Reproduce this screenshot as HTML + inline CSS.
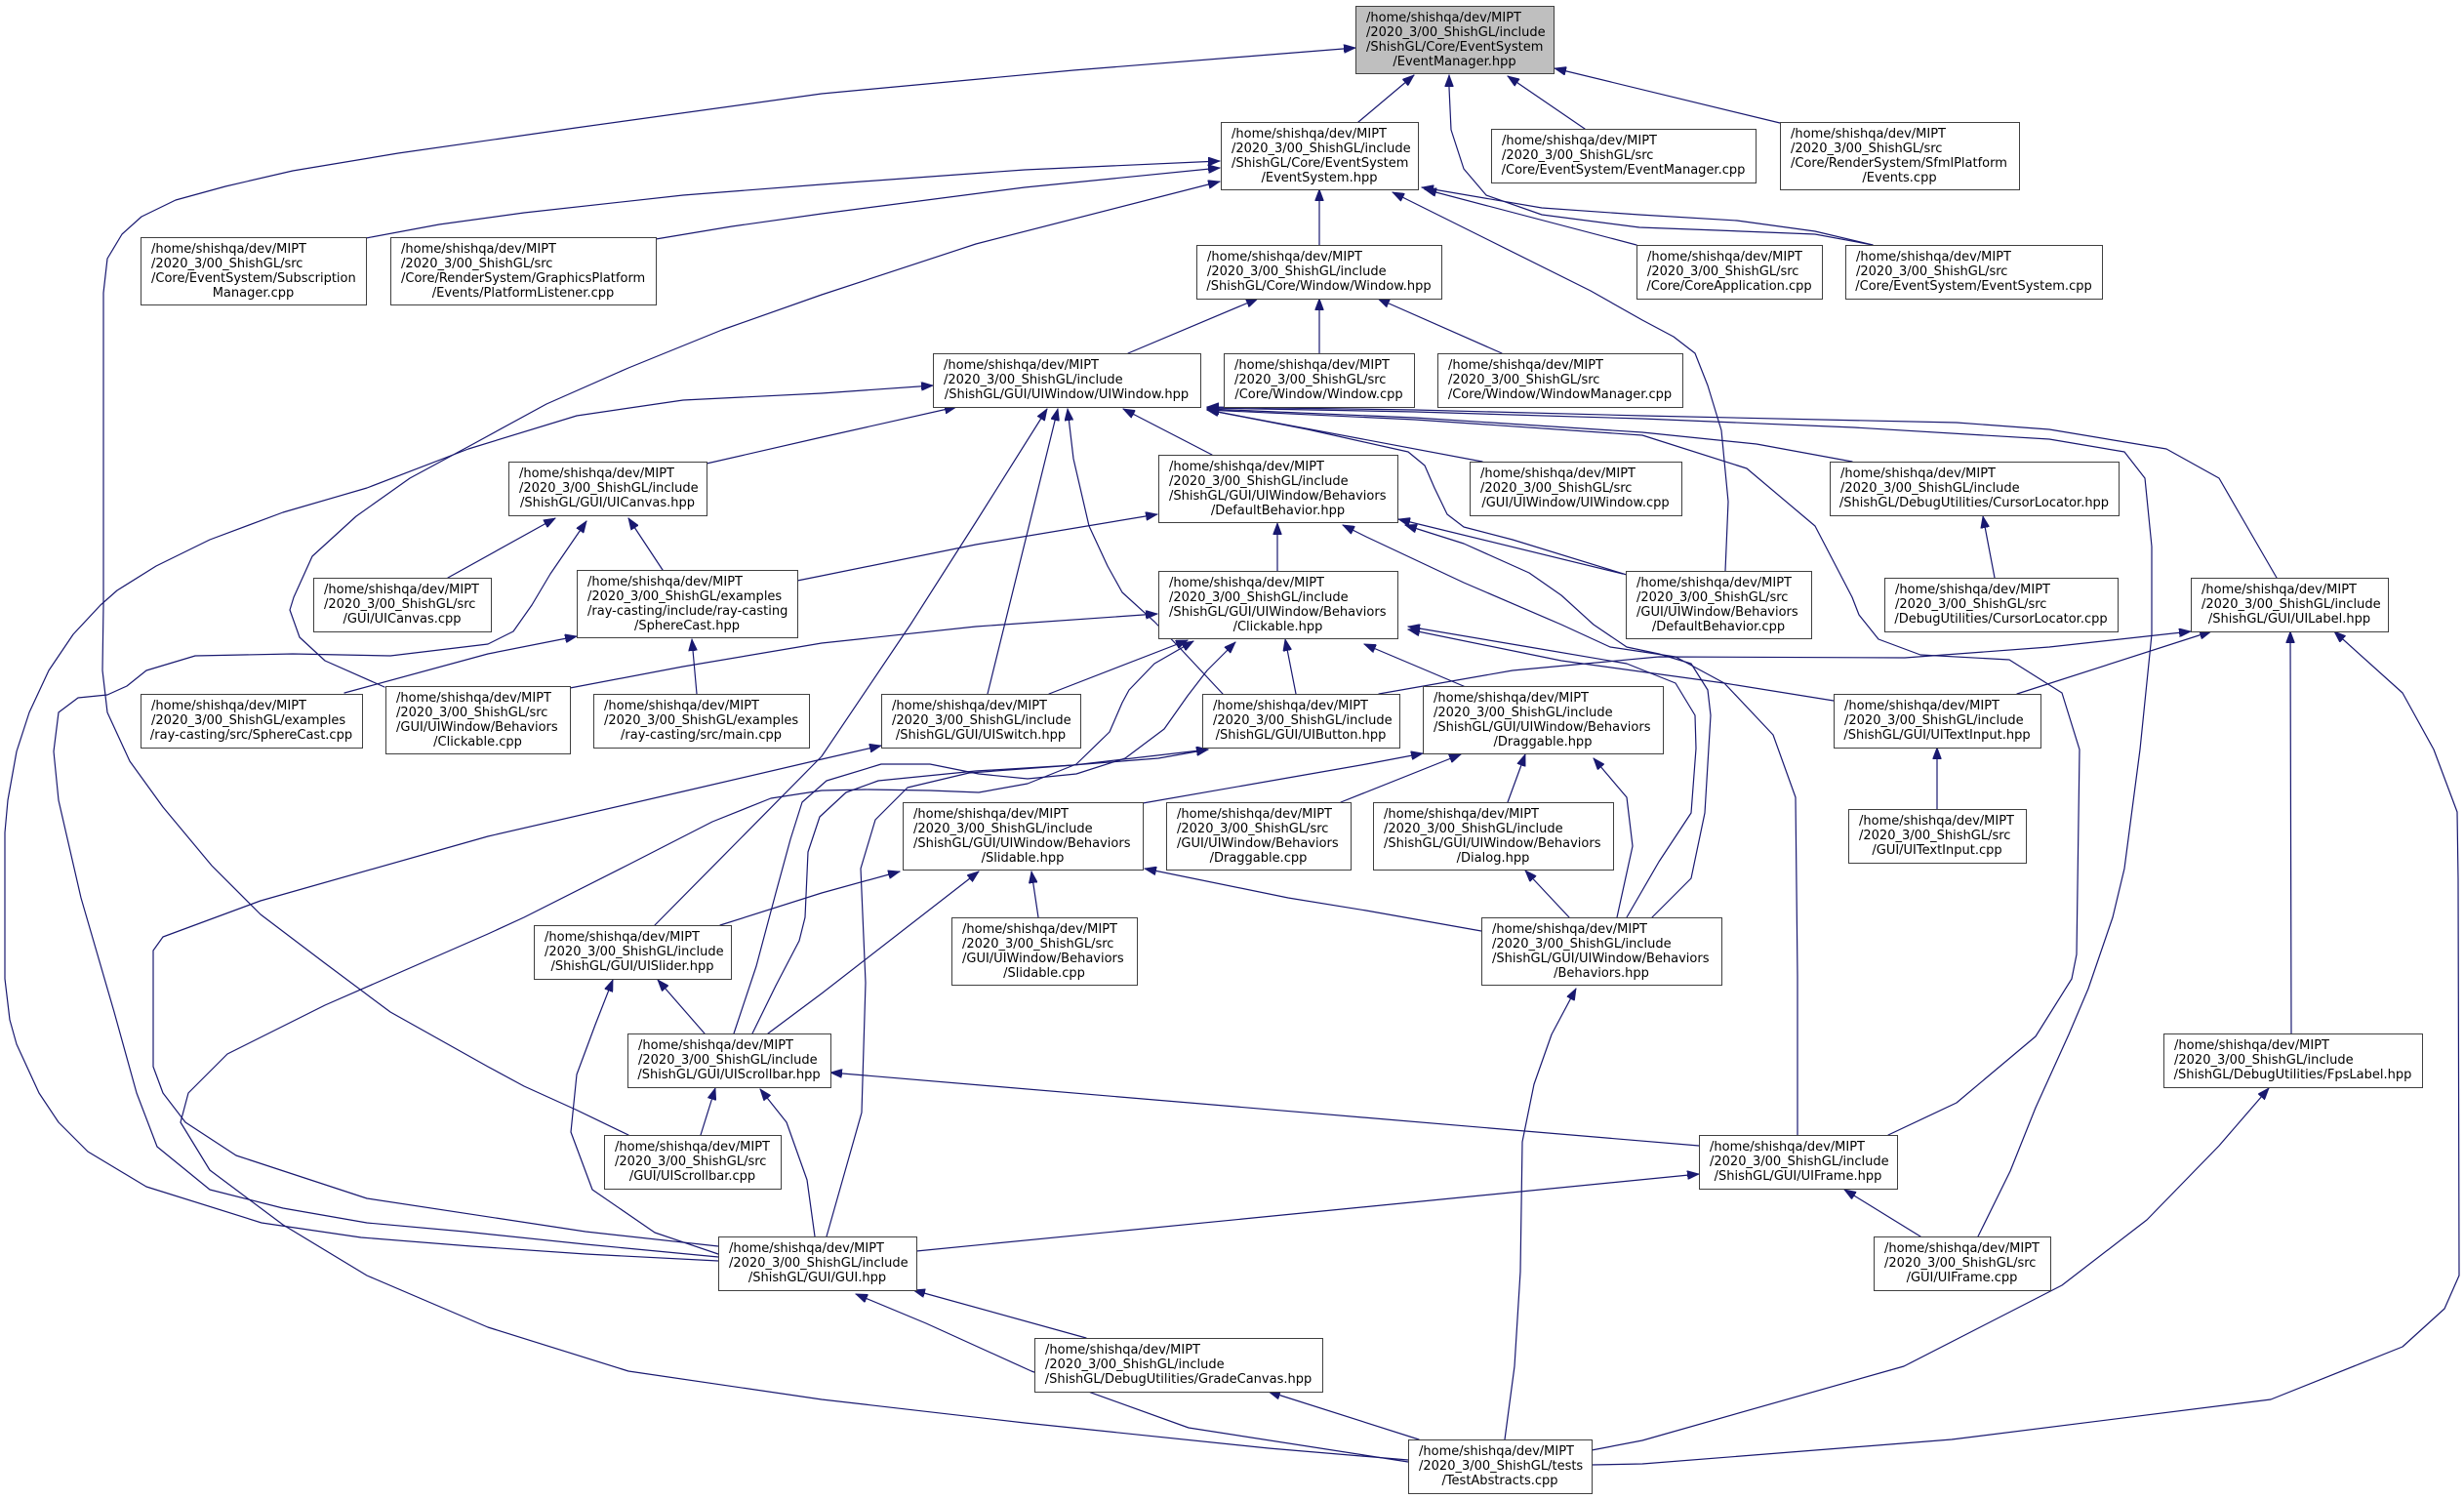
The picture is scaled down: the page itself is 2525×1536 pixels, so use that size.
<!DOCTYPE html>
<html>
<head>
<meta charset="utf-8">
<style>
html,body{margin:0;padding:0;background:#ffffff;}
svg{display:block;background:#ffffff;}
text{font-family:"DejaVu Sans","Liberation Sans",sans-serif;font-size:13px;fill:#000;}
.c{text-anchor:middle;}
rect{stroke:#404040;stroke-width:1;}
</style>
</head>
<body>
<svg xmlns="http://www.w3.org/2000/svg" width="2525" height="1536" viewBox="0 0 2525 1536">
<defs>
<marker id="a" markerUnits="userSpaceOnUse" markerWidth="12" markerHeight="9" refX="12" refY="4.5" orient="auto" viewBox="0 0 12 9">
<path d="M0,0 L12,4.5 L0,9 z" fill="#191970" stroke="#191970" stroke-width="0.8"/>
</marker>
</defs>

<g fill="none" stroke="#191970" stroke-width="1.2" stroke-linejoin="round" stroke-linecap="round" marker-end="url(#a)">
<polyline points="1392,125 1449,77"/>
<polyline points="1624,132 1545,78"/>
<polyline points="1824,126 1593,70"/>
<polyline points="644,1163 590,1137 537,1113 500,1093 400,1037 333,987 267,937 217,887 167,827 133,780 110,730 105,687 106,620 106,300 110,265 125,240 145,222 180,205 231,191 300,175 408,157 590,131 842,96 1100,72 1389,49"/>
<polyline points="1919,251 1860,240 1760,236 1680,233 1580,220 1523,200 1500,173 1487,133 1485,90 1485,77"/>
<polyline points="1919,251 1860,237 1780,226 1680,220 1580,213 1457,192"/>
<polyline points="1677,251 1460,194"/>
<polyline points="1768,585 1771,514 1764,441 1750,395 1737,362 1715,345 1683,328 1630,298 1427,197"/>
<polyline points="1352,251 1352,194"/>
<polyline points="375,244 450,230 537,218 700,200 842,189 1050,174 1250,165"/>
<polyline points="672,245 750,232 842,219 1050,192 1250,172"/>
<polyline points="394,704 333,677 307,653 297,625 301,612 320,570 365,529 420,490 483,456 560,414 644,377 740,338 842,302 1000,250 1250,186"/>
<polyline points="1156,362 1289,306"/>
<polyline points="1352,362 1352,306"/>
<polyline points="1539,362 1412,306"/>
<polyline points="724,475 842,448 980,417"/>
<polyline points="736,1292 600,1285 483,1277 370,1268 268,1253 150,1216 90,1180 60,1150 40,1120 17,1070 10,1045 5,1003 5,853 8,820 17,770 30,730 50,687 75,650 103,620 120,605 160,580 215,553 290,525 376,500 480,460 591,426 700,410 842,403 956,395"/>
<polyline points="671,948 760,858 842,775 933,640 1000,535 1073,419"/>
<polyline points="1012,711 1084,419"/>
<polyline points="1253,711 1210,665 1183,637 1150,607 1135,580 1116,539 1100,470 1094,419"/>
<polyline points="1242,466 1151,419"/>
<polyline points="1519,473 1237,420"/>
<polyline points="1898,473 1800,455 1683,443 1450,428 1237,419"/>
<polyline points="2333,592 2300,535 2274,490 2220,460 2100,440 2005,433 1683,426 1450,420 1237,417"/>
<polyline points="2027,1267 2060,1200 2086,1135 2120,1060 2140,1013 2165,940 2177,890 2193,768 2205,650 2205,560 2198,490 2177,463 2100,450 1900,438 1683,429 1450,422 1237,418"/>
<polyline points="1935,1163 2005,1130 2086,1062 2123,1003 2128,978 2131,768 2113,710 2059,676 1968,671 1925,655 1905,630 1898,612 1860,539 1790,480 1683,446 1450,430 1237,420"/>
<polyline points="1667,589 1550,553 1500,540 1483,527 1470,500 1460,477 1443,463 1340,440 1237,420"/>
<polyline points="459,592 569,531"/>
<polyline points="679,584 644,531"/>
<polyline points="736,1288 600,1275 476,1262 376,1253 290,1238 215,1219 161,1175 140,1120 117,1037 83,920 60,820 55,770 60,730 80,715 110,712 130,703 150,687 200,672 300,670 400,672 500,660 526,647 545,620 564,588 601,534"/>
<polyline points="817,595 842,590 1000,558 1186,527"/>
<polyline points="1309,585 1309,536"/>
<polyline points="1663,588 1433,532"/>
<polyline points="1693,940 1733,900 1747,833 1753,733 1750,707 1733,680 1700,670 1667,663 1633,640 1600,610 1567,587 1500,557 1440,538"/>
<polyline points="1842,1163 1842,1000 1840,817 1817,753 1767,700 1717,673 1650,663 1600,640 1500,597 1400,550 1376,538"/>
<polyline points="2044,592 2032,529"/>
<polyline points="353,710 500,670 591,652"/>
<polyline points="714,711 709,655"/>
<polyline points="584,705 700,683 842,659 1000,642 1186,629"/>
<polyline points="1075,711 1217,656"/>
<polyline points="1328,711 1317,655"/>
<polyline points="1502,704 1398,660"/>
<polyline points="1879,718 1767,700 1600,677 1443,645"/>
<polyline points="1667,940 1700,883 1733,833 1738,767 1737,733 1717,700 1667,680 1567,663 1443,642"/>
<polyline points="1443,1496 1300,1484 1050,1458 842,1434 644,1405 500,1360 376,1307 290,1255 215,1199 185,1150 193,1120 233,1080 333,1030 500,957 537,940 644,886 730,842 790,818 842,810 887,809 953,810 1003,812 1053,803 1103,783 1137,750 1150,720 1157,707 1183,680 1223,657"/>
<polyline points="752,1059 775,990 795,915 810,860 822,822 847,800 903,783 953,783 1003,793 1053,798 1103,793 1153,777 1193,747 1217,713 1237,687 1266,658"/>
<polyline points="771,1059 795,1010 819,964 825,940 828,873 840,837 867,812 900,800 1000,790 1100,784 1238,768"/>
<polyline points="847,1267 866,1200 883,1140 887,1007 882,890 897,840 930,807 993,792 1087,785 1187,777 1238,768"/>
<polyline points="736,1277 600,1262 376,1228 242,1184 190,1150 167,1120 157,1093 157,974 167,960 267,923 500,857 700,811 842,778 903,764"/>
<polyline points="1413,711 1550,687 1700,673 1952,674 2100,663 2245,647"/>
<polyline points="2067,711 2266,647"/>
<polyline points="2348,1059 2347,647"/>
<polyline points="1631,1501 1683,1500 2000,1475 2327,1434 2462,1380 2505,1341 2520,1307 2519,900 2518,832 2494,768 2462,710 2392,647"/>
<polyline points="1171,823 1320,797 1400,783 1458,772"/>
<polyline points="1374,822 1497,773"/>
<polyline points="1545,822 1563,773"/>
<polyline points="1657,940 1673,867 1667,817 1633,777"/>
<polyline points="738,948 842,915 922,893"/>
<polyline points="1064,940 1057,893"/>
<polyline points="787,1059 842,1018 1003,893"/>
<polyline points="1518,954 1400,933 1320,920 1173,890"/>
<polyline points="1608,940 1563,892"/>
<polyline points="736,1285 671,1263 607,1219 585,1160 591,1101 610,1050 628,1004"/>
<polyline points="718,1163 733,1115"/>
<polyline points="835,1267 827,1209 806,1150 779,1116"/>
<polyline points="1741,1174 851,1099"/>
<polyline points="939,1282 1741,1203"/>
<polyline points="1968,1267 1890,1219"/>
<polyline points="1113,1371 936,1322"/>
<polyline points="1443,1498 1218,1463 1057,1405 949,1356 877,1326"/>
<polyline points="1454,1475 1300,1426"/>
<polyline points="1542,1475 1552,1400 1558,1303 1560,1170 1572,1111 1590,1060 1615,1013"/>
<polyline points="1631,1486 1683,1476 1951,1400 2113,1317 2200,1250 2274,1174 2325,1115"/>
<polyline points="1985,829 1985,766"/>
<polyline points="722,1059 674,1004"/>
</g>

<!-- nodes -->
<rect x="1389.5" y="6.5" width="203" height="69" fill="#bfbfbf"/>
<text x="1400" y="22">/home/shishqa/dev/MIPT</text><text x="1400" y="37">/2020_3/00_ShishGL/include</text><text x="1400" y="52">/ShishGL/Core/EventSystem</text><text class="c" x="1490.5" y="67">/EventManager.hpp</text>

<rect x="1251.5" y="125.5" width="202" height="69" fill="#fff"/>
<text x="1262" y="141">/home/shishqa/dev/MIPT</text><text x="1262" y="156">/2020_3/00_ShishGL/include</text><text x="1262" y="171">/ShishGL/Core/EventSystem</text><text class="c" x="1352" y="186">/EventSystem.hpp</text>

<rect x="1528.5" y="132.5" width="271" height="55" fill="#fff"/>
<text x="1539" y="148">/home/shishqa/dev/MIPT</text><text x="1539" y="163">/2020_3/00_ShishGL/src</text><text class="c" x="1663.5" y="178">/Core/EventSystem/EventManager.cpp</text>

<rect x="1824.5" y="125.5" width="245" height="69" fill="#fff"/>
<text x="1835" y="141">/home/shishqa/dev/MIPT</text><text x="1835" y="156">/2020_3/00_ShishGL/src</text><text x="1835" y="171">/Core/RenderSystem/SfmlPlatform</text><text class="c" x="1946.5" y="186">/Events.cpp</text>

<rect x="144.5" y="243.5" width="231" height="69" fill="#fff"/>
<text x="155" y="259">/home/shishqa/dev/MIPT</text><text x="155" y="274">/2020_3/00_ShishGL/src</text><text x="155" y="289">/Core/EventSystem/Subscription</text><text class="c" x="259.5" y="304">Manager.cpp</text>

<rect x="400.5" y="243.5" width="272" height="69" fill="#fff"/>
<text x="411" y="259">/home/shishqa/dev/MIPT</text><text x="411" y="274">/2020_3/00_ShishGL/src</text><text x="411" y="289">/Core/RenderSystem/GraphicsPlatform</text><text class="c" x="536" y="304">/Events/PlatformListener.cpp</text>

<rect x="1226.5" y="251.5" width="251" height="55" fill="#fff"/>
<text x="1237" y="267">/home/shishqa/dev/MIPT</text><text x="1237" y="282">/2020_3/00_ShishGL/include</text><text class="c" x="1351.5" y="297">/ShishGL/Core/Window/Window.hpp</text>

<rect x="1677.5" y="251.5" width="190" height="55" fill="#fff"/>
<text x="1688" y="267">/home/shishqa/dev/MIPT</text><text x="1688" y="282">/2020_3/00_ShishGL/src</text><text class="c" x="1772" y="297">/Core/CoreApplication.cpp</text>

<rect x="1891.5" y="251.5" width="263" height="55" fill="#fff"/>
<text x="1902" y="267">/home/shishqa/dev/MIPT</text><text x="1902" y="282">/2020_3/00_ShishGL/src</text><text class="c" x="2022.5" y="297">/Core/EventSystem/EventSystem.cpp</text>

<rect x="956.5" y="362.5" width="274" height="55" fill="#fff"/>
<text x="967" y="378">/home/shishqa/dev/MIPT</text><text x="967" y="393">/2020_3/00_ShishGL/include</text><text class="c" x="1093" y="408">/ShishGL/GUI/UIWindow/UIWindow.hpp</text>

<rect x="1254.5" y="362.5" width="195" height="55" fill="#fff"/>
<text x="1265" y="378">/home/shishqa/dev/MIPT</text><text x="1265" y="393">/2020_3/00_ShishGL/src</text><text class="c" x="1351.5" y="408">/Core/Window/Window.cpp</text>

<rect x="1473.5" y="362.5" width="251" height="55" fill="#fff"/>
<text x="1484" y="378">/home/shishqa/dev/MIPT</text><text x="1484" y="393">/2020_3/00_ShishGL/src</text><text class="c" x="1598.5" y="408">/Core/Window/WindowManager.cpp</text>

<rect x="521.5" y="473.5" width="203" height="55" fill="#fff"/>
<text x="532" y="489">/home/shishqa/dev/MIPT</text><text x="532" y="504">/2020_3/00_ShishGL/include</text><text class="c" x="622.5" y="519">/ShishGL/GUI/UICanvas.hpp</text>

<rect x="1187.5" y="466.5" width="245" height="69" fill="#fff"/>
<text x="1198" y="482">/home/shishqa/dev/MIPT</text><text x="1198" y="497">/2020_3/00_ShishGL/include</text><text x="1198" y="512">/ShishGL/GUI/UIWindow/Behaviors</text><text class="c" x="1309.5" y="527">/DefaultBehavior.hpp</text>

<rect x="1506.5" y="473.5" width="217" height="55" fill="#fff"/>
<text x="1517" y="489">/home/shishqa/dev/MIPT</text><text x="1517" y="504">/2020_3/00_ShishGL/src</text><text class="c" x="1614.5" y="519">/GUI/UIWindow/UIWindow.cpp</text>

<rect x="1875.5" y="473.5" width="296" height="55" fill="#fff"/>
<text x="1886" y="489">/home/shishqa/dev/MIPT</text><text x="1886" y="504">/2020_3/00_ShishGL/include</text><text class="c" x="2023" y="519">/ShishGL/DebugUtilities/CursorLocator.hpp</text>

<rect x="321.5" y="592.5" width="182" height="55" fill="#fff"/>
<text x="332" y="608">/home/shishqa/dev/MIPT</text><text x="332" y="623">/2020_3/00_ShishGL/src</text><text class="c" x="412" y="638">/GUI/UICanvas.cpp</text>

<rect x="591.5" y="584.5" width="226" height="69" fill="#fff"/>
<text x="602" y="600">/home/shishqa/dev/MIPT</text><text x="602" y="615">/2020_3/00_ShishGL/examples</text><text x="602" y="630">/ray-casting/include/ray-casting</text><text class="c" x="704" y="645">/SphereCast.hpp</text>

<rect x="1187.5" y="585.5" width="245" height="69" fill="#fff"/>
<text x="1198" y="601">/home/shishqa/dev/MIPT</text><text x="1198" y="616">/2020_3/00_ShishGL/include</text><text x="1198" y="631">/ShishGL/GUI/UIWindow/Behaviors</text><text class="c" x="1309.5" y="646">/Clickable.hpp</text>

<rect x="1666.5" y="585.5" width="190" height="69" fill="#fff"/>
<text x="1677" y="601">/home/shishqa/dev/MIPT</text><text x="1677" y="616">/2020_3/00_ShishGL/src</text><text x="1677" y="631">/GUI/UIWindow/Behaviors</text><text class="c" x="1761" y="646">/DefaultBehavior.cpp</text>

<rect x="1931.5" y="592.5" width="239" height="55" fill="#fff"/>
<text x="1942" y="608">/home/shishqa/dev/MIPT</text><text x="1942" y="623">/2020_3/00_ShishGL/src</text><text class="c" x="2050.5" y="638">/DebugUtilities/CursorLocator.cpp</text>

<rect x="2245.5" y="592.5" width="202" height="55" fill="#fff"/>
<text x="2256" y="608">/home/shishqa/dev/MIPT</text><text x="2256" y="623">/2020_3/00_ShishGL/include</text><text class="c" x="2346" y="638">/ShishGL/GUI/UILabel.hpp</text>

<rect x="144.5" y="711.5" width="227" height="55" fill="#fff"/>
<text x="155" y="727">/home/shishqa/dev/MIPT</text><text x="155" y="742">/2020_3/00_ShishGL/examples</text><text class="c" x="257.5" y="757">/ray-casting/src/SphereCast.cpp</text>

<rect x="395.5" y="703.5" width="189" height="69" fill="#fff"/>
<text x="406" y="719">/home/shishqa/dev/MIPT</text><text x="406" y="734">/2020_3/00_ShishGL/src</text><text x="406" y="749">/GUI/UIWindow/Behaviors</text><text class="c" x="489.5" y="764">/Clickable.cpp</text>

<rect x="608.5" y="711.5" width="221" height="55" fill="#fff"/>
<text x="619" y="727">/home/shishqa/dev/MIPT</text><text x="619" y="742">/2020_3/00_ShishGL/examples</text><text class="c" x="718.5" y="757">/ray-casting/src/main.cpp</text>

<rect x="903.5" y="711.5" width="204" height="55" fill="#fff"/>
<text x="914" y="727">/home/shishqa/dev/MIPT</text><text x="914" y="742">/2020_3/00_ShishGL/include</text><text class="c" x="1005" y="757">/ShishGL/GUI/UISwitch.hpp</text>

<rect x="1232.5" y="711.5" width="202" height="55" fill="#fff"/>
<text x="1243" y="727">/home/shishqa/dev/MIPT</text><text x="1243" y="742">/2020_3/00_ShishGL/include</text><text class="c" x="1333" y="757">/ShishGL/GUI/UIButton.hpp</text>

<rect x="1458.5" y="703.5" width="246" height="69" fill="#fff"/>
<text x="1469" y="719">/home/shishqa/dev/MIPT</text><text x="1469" y="734">/2020_3/00_ShishGL/include</text><text x="1469" y="749">/ShishGL/GUI/UIWindow/Behaviors</text><text class="c" x="1581" y="764">/Draggable.hpp</text>

<rect x="1879.5" y="711.5" width="212" height="55" fill="#fff"/>
<text x="1890" y="727">/home/shishqa/dev/MIPT</text><text x="1890" y="742">/2020_3/00_ShishGL/include</text><text class="c" x="1985" y="757">/ShishGL/GUI/UITextInput.hpp</text>

<rect x="925.5" y="822.5" width="246" height="69" fill="#fff"/>
<text x="936" y="838">/home/shishqa/dev/MIPT</text><text x="936" y="853">/2020_3/00_ShishGL/include</text><text x="936" y="868">/ShishGL/GUI/UIWindow/Behaviors</text><text class="c" x="1048" y="883">/Slidable.hpp</text>

<rect x="1195.5" y="822.5" width="189" height="69" fill="#fff"/>
<text x="1206" y="838">/home/shishqa/dev/MIPT</text><text x="1206" y="853">/2020_3/00_ShishGL/src</text><text x="1206" y="868">/GUI/UIWindow/Behaviors</text><text class="c" x="1289.5" y="883">/Draggable.cpp</text>

<rect x="1407.5" y="822.5" width="246" height="69" fill="#fff"/>
<text x="1418" y="838">/home/shishqa/dev/MIPT</text><text x="1418" y="853">/2020_3/00_ShishGL/include</text><text x="1418" y="868">/ShishGL/GUI/UIWindow/Behaviors</text><text class="c" x="1530" y="883">/Dialog.hpp</text>

<rect x="1894.5" y="829.5" width="182" height="55" fill="#fff"/>
<text x="1905" y="845">/home/shishqa/dev/MIPT</text><text x="1905" y="860">/2020_3/00_ShishGL/src</text><text class="c" x="1985" y="875">/GUI/UITextInput.cpp</text>

<rect x="547.5" y="948.5" width="202" height="55" fill="#fff"/>
<text x="558" y="964">/home/shishqa/dev/MIPT</text><text x="558" y="979">/2020_3/00_ShishGL/include</text><text class="c" x="648" y="994">/ShishGL/GUI/UISlider.hpp</text>

<rect x="975.5" y="940.5" width="190" height="69" fill="#fff"/>
<text x="986" y="956">/home/shishqa/dev/MIPT</text><text x="986" y="971">/2020_3/00_ShishGL/src</text><text x="986" y="986">/GUI/UIWindow/Behaviors</text><text class="c" x="1070" y="1001">/Slidable.cpp</text>

<rect x="1518.5" y="940.5" width="246" height="69" fill="#fff"/>
<text x="1529" y="956">/home/shishqa/dev/MIPT</text><text x="1529" y="971">/2020_3/00_ShishGL/include</text><text x="1529" y="986">/ShishGL/GUI/UIWindow/Behaviors</text><text class="c" x="1641" y="1001">/Behaviors.hpp</text>

<rect x="643.5" y="1059.5" width="208" height="55" fill="#fff"/>
<text x="654" y="1075">/home/shishqa/dev/MIPT</text><text x="654" y="1090">/2020_3/00_ShishGL/include</text><text class="c" x="747" y="1105">/ShishGL/GUI/UIScrollbar.hpp</text>

<rect x="2217.5" y="1059.5" width="265" height="55" fill="#fff"/>
<text x="2228" y="1075">/home/shishqa/dev/MIPT</text><text x="2228" y="1090">/2020_3/00_ShishGL/include</text><text class="c" x="2349.5" y="1105">/ShishGL/DebugUtilities/FpsLabel.hpp</text>

<rect x="619.5" y="1163.5" width="181" height="55" fill="#fff"/>
<text x="630" y="1179">/home/shishqa/dev/MIPT</text><text x="630" y="1194">/2020_3/00_ShishGL/src</text><text class="c" x="709.5" y="1209">/GUI/UIScrollbar.cpp</text>

<rect x="1741.5" y="1163.5" width="203" height="55" fill="#fff"/>
<text x="1752" y="1179">/home/shishqa/dev/MIPT</text><text x="1752" y="1194">/2020_3/00_ShishGL/include</text><text class="c" x="1842.5" y="1209">/ShishGL/GUI/UIFrame.hpp</text>

<rect x="736.5" y="1267.5" width="203" height="55" fill="#fff"/>
<text x="747" y="1283">/home/shishqa/dev/MIPT</text><text x="747" y="1298">/2020_3/00_ShishGL/include</text><text class="c" x="837.5" y="1313">/ShishGL/GUI/GUI.hpp</text>

<rect x="1920.5" y="1267.5" width="181" height="55" fill="#fff"/>
<text x="1931" y="1283">/home/shishqa/dev/MIPT</text><text x="1931" y="1298">/2020_3/00_ShishGL/src</text><text class="c" x="2010.5" y="1313">/GUI/UIFrame.cpp</text>

<rect x="1060.5" y="1371.5" width="295" height="55" fill="#fff"/>
<text x="1071" y="1387">/home/shishqa/dev/MIPT</text><text x="1071" y="1402">/2020_3/00_ShishGL/include</text><text class="c" x="1207.5" y="1417">/ShishGL/DebugUtilities/GradeCanvas.hpp</text>

<rect x="1443.5" y="1475.5" width="188" height="55" fill="#fff"/>
<text x="1454" y="1491">/home/shishqa/dev/MIPT</text><text x="1454" y="1506">/2020_3/00_ShishGL/tests</text><text class="c" x="1537" y="1521">/TestAbstracts.cpp</text>
</svg>
</body>
</html>
